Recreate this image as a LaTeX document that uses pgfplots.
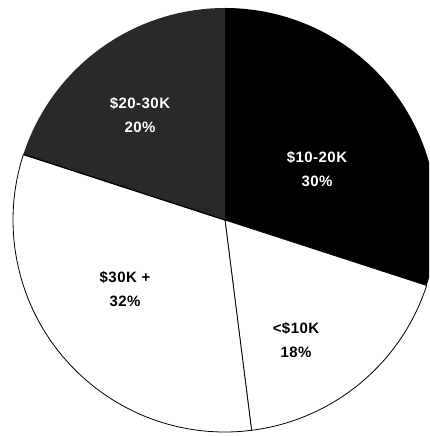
\documentclass[border=0pt]{standalone}
\usepackage{fontspec}
\setmainfont{Liberation Sans}
\usepackage{pgfplots}
\pgfplotsset{compat=1.18}
\definecolor{darkslice}{gray}{0.16}
\begin{document}
\begin{tikzpicture}
% slice values (percent), clockwise from 12 o'clock
\def\vA{30}% $10-20K
\def\vB{18}% <$10K
\def\vC{32}% $30K +
\def\vD{20}% $20-30K
\def\cx{225}\def\cy{216}\def\rr{212}
\pgfmathsetmacro{\aA}{90}
\pgfmathsetmacro{\aB}{\aA-3.6*\vA}
\pgfmathsetmacro{\aC}{\aB-3.6*\vB}
\pgfmathsetmacro{\aD}{\aC-3.6*\vC}
\pgfmathsetmacro{\aE}{\aD-3.6*\vD}
\begin{axis}[x=1pt,y=1pt,xmin=0,xmax=429,ymin=0,ymax=436,hide axis,anchor=origin,at={(0,0)}]
\fill[black] (axis cs:\cx,\cy) -- ++(\aA:\rr pt) arc[start angle=\aA,end angle=\aB,radius=\rr pt] -- cycle;
\filldraw[fill=white,draw=black,line width=0.8pt] (axis cs:\cx,\cy) -- ++(\aB:\rr pt) arc[start angle=\aB,end angle=\aC,radius=\rr pt] -- cycle;
\filldraw[fill=white,draw=black,line width=0.8pt] (axis cs:\cx,\cy) -- ++(\aC:\rr pt) arc[start angle=\aC,end angle=\aD,radius=\rr pt] -- cycle;
\fill[darkslice] (axis cs:\cx,\cy) -- ++(\aD:\rr pt) arc[start angle=\aD,end angle=\aE,radius=\rr pt] -- cycle;
\draw[black,line width=1.2pt] (axis cs:\cx,\cy) -- ++(\aD:\rr pt);
\tikzset{lbl/.style={font=\bfseries\fontsize{15}{24}\selectfont\addfontfeatures{LetterSpace=3},align=center}}
\node[lbl,white] at (axis cs:317,267) {\$10-20K\\30\%};
\node[lbl,white] at (axis cs:140,321) {\$20-30K\\20\%};
\node[lbl,black] at (axis cs:125,147) {\$30K +\\32\%};
\node[lbl,black] at (axis cs:296,96) {<\$10K\\18\%};
\end{axis}
\path (0,0) rectangle (429pt,436pt);
\end{tikzpicture}
\end{document}
